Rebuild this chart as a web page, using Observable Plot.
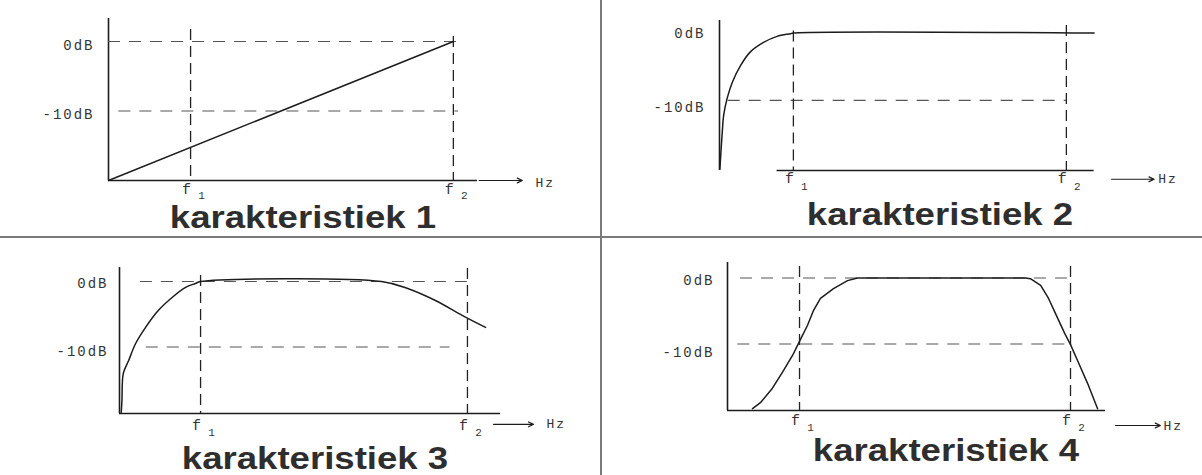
<!DOCTYPE html>
<html>
<head>
<meta charset="utf-8">
<script src="https://cdn.jsdelivr.net/npm/d3@7"></script>
<script src="https://cdn.jsdelivr.net/npm/@observablehq/plot@0.6"></script>
<style>
  html, body { margin: 0; padding: 0; background: #fff; }
  #fig { position: relative; width: 1202px; height: 475px; overflow: hidden; background: #fff; }
  .panel { position: absolute; }
  .title {
    position: absolute; white-space: nowrap;
    font-family: "Liberation Sans", Arial, sans-serif; font-weight: bold;
    font-size: 31px; line-height: 23px; color: #2e2e2e;
    transform: translateX(-50%) scaleX(1.18);
  }
  .divider { position: absolute; background: #7a7a7a; }
</style>
</head>
<body>
<div id="fig"></div>
<script>
// ---------- data ----------
const dbLevels = [0, -10];
const dbLabels = ["0dB", "-10dB"];
const freqMain = ["f", "f"];
const freqSubs = ["1", "2"];
const unitLabel = "Hz";
const titles = ["karakteristiek 1", "karakteristiek 2", "karakteristiek 3", "karakteristiek 4"];

// cut-off frequencies per characteristic (relative units, f2 = 10)
const f1Values = [2.38, 2.13, 2.33, 2.10];
const f2Values = [10, 10, 10, 10];

// characteristic 1: straight rise
const k1Freq = [0, 10];
const k1Gain = [-20, 0];
// characteristic 2: high-pass
const k2Freq = [0.01, 0.08, 0.12, 0.22, 0.37, 0.61, 0.89, 1.27, 1.66, 2.05, 2.13, 10.8];
const k2Gain = [-20.2, -14.7, -12.2, -9.7, -7.3, -4.8, -2.8, -1.4, -0.5, -0.1, 0, 0];
// characteristic 3: band with slow roll-off
const k3Freq = [0.05, 0.07, 0.11, 0.26, 0.46, 0.75, 1.12, 1.52, 1.90, 2.18, 2.33, 7.53, 8.30, 9.08, 9.86, 10.52];
const k3Gain = [-20.0, -18.2, -14.0, -12.1, -9.5, -7.0, -4.4, -2.4, -0.9, -0.3, 0, 0, -1.1, -2.9, -5.2, -7.0];
// characteristic 4: band-pass
const k4Freq = [0.73, 0.96, 1.31, 1.60, 1.90, 2.07, 2.33, 2.51, 2.71, 3.09, 3.50, 3.79, 8.69, 8.83, 9.13, 9.36, 9.59, 9.83, 10.0, 10.23, 10.50, 10.79];
const k4Gain = [-19.8, -18.9, -16.7, -14.3, -11.7, -9.9, -7.2, -4.9, -3.1, -1.6, -0.4, 0, 0, -0.1, -1.1, -3.1, -5.7, -8.4, -10.1, -12.8, -16.0, -19.8];

const curvesFreq = [k1Freq, k2Freq, k3Freq, k4Freq];
const curvesGain = [k1Gain, k2Gain, k3Gain, k4Gain];

// ---------- layout (positions / styles) ----------
const layout = [
  { left: 0, top: 0, width: 600, height: 237, ml: 108, mr: 123, mt: 18, mb: 57,
    xDom: [0, 10.7], yDom: [-20, 3.3], xAxis: [0, 10.7], curve: "linear",
    refs: [{ db: 0, from: 0, to: 10.3 }, { db: -10, from: 0.3, to: 10.15 }],
    fTop: [1.73, 0.72], labelDx: -14, labelDy: [4, 4], fDy: 9, sDy: 15,
    arrow: [10.75, 12.0], arrowDb: -20, hzX: 12.38, hzDb: -20.3,
    titleX: 303, titleBase: 228 },
  { left: 600, top: 0, width: 602, height: 237, ml: 119, mr: 107, mt: 20, mb: 67,
    xDom: [0, 10.84], yDom: [-20.4, 1.85], xAxis: [1.66, 10.8], curve: "catmull-rom",
    refs: [{ db: -10, from: 0.25, to: 10.0 }],
    fTop: [0.3, 1.1], labelDx: -14, labelDy: [0.5, 7], fDy: 8, sDy: 16,
    arrow: [11.3, 12.53], arrowDb: -21.7, hzX: 12.65, hzDb: -21.7,
    titleX: 940, titleBase: 225 },
  { left: 0, top: 237, width: 600, height: 238, ml: 119, mr: 100, mt: 30, mb: 62,
    xDom: [0, 10.95], yDom: [-20.15, 2.14], xAxis: [0, 10.95], curve: "catmull-rom",
    refs: [{ db: 0, from: 0.6, to: 10.1 }, { db: -10, from: 0.77, to: 9.5 }],
    fTop: [0.9, 2.0], labelDx: -11, labelDy: [2, 4], fDy: 12, sDy: 19,
    arrow: [10.75, 11.9], arrowDb: -21.8, hzX: 12.27, hzDb: -21.8,
    titleX: 315, titleBase: 469 },
  { left: 600, top: 237, width: 602, height: 238, ml: 127, mr: 97, mt: 25, mb: 65,
    xDom: [0, 11.02], yDom: [-20.08, 2.35], xAxis: [0, 11.02], curve: "linear",
    refs: [{ db: 0, from: 0.38, to: 10.05 }, { db: -10, from: 0.3, to: 10.05 }],
    fTop: [1.74, 1.74], labelDx: -13, labelDy: [2.5, 9], fDy: 10, sDy: 17,
    arrow: [11.31, 12.62], arrowDb: -22.35, hzX: 12.71, hzDb: -22.35,
    titleX: 946, titleBase: 461 }
];

const ink = "#1c1c1c";
const monoFont = "'Liberation Mono', 'DejaVu Sans Mono', monospace";

function buildPanel(i) {
  const L = layout[i];
  const base = L.yDom[0];
  const cut = [f1Values[i], f2Values[i]];
  const pts = curvesFreq[i].map((f, j) => ({ f, g: curvesGain[i][j] }));
  const marks = [
    // vertical (dB) axis
    Plot.ruleX([0], { y1: () => L.yDom[0], y2: () => L.yDom[1], stroke: ink, strokeWidth: 1.6 }),
    // horizontal (frequency) axis
    Plot.ruleY([base], { x1: () => L.xAxis[0], x2: () => L.xAxis[1], stroke: ink, strokeWidth: 1.3 }),
    // dashed reference levels
    Plot.ruleY(L.refs, { y: "db", x1: "from", x2: "to", stroke: "#555", strokeWidth: 1.1, strokeDasharray: "12,9" }),
    // dashed cut-off verticals
    Plot.ruleX(cut, { x: d => d, y1: (d, j) => L.fTop[j], y2: () => base, stroke: "#222", strokeWidth: 1.3, strokeDasharray: "11,6" }),
    // response curve
    Plot.line(pts, { x: "f", y: "g", stroke: ink, strokeWidth: 1.5, curve: L.curve }),
    // dB labels
    Plot.text([dbLevels[0]], { x: () => 0, y: d => d, text: () => dbLabels[0], textAnchor: "end",
      dx: L.labelDx, dy: L.labelDy[0], fontFamily: monoFont, fontSize: 14, fill: "#333" }),
    Plot.text([dbLevels[1]], { x: () => 0, y: d => d, text: () => dbLabels[1], textAnchor: "end",
      dx: L.labelDx, dy: L.labelDy[1], fontFamily: monoFont, fontSize: 14, fill: "#333" }),
    // f1 / f2 labels
    Plot.text(cut, { x: d => d, y: () => base, text: (d, j) => freqMain[j], dx: -3, dy: L.fDy,
      fontFamily: monoFont, fontSize: 15, fill: "#333" }),
    Plot.text(cut, { x: d => d, y: () => base, text: (d, j) => freqSubs[j], dx: 12, dy: L.sDy,
      fontFamily: monoFont, fontSize: 11, fill: "#333" }),
    // arrow -> Hz
    Plot.arrow([unitLabel], { x1: () => L.arrow[0], x2: () => L.arrow[1], y1: () => L.arrowDb, y2: () => L.arrowDb,
      stroke: ink, strokeWidth: 1.2, headLength: 7, headAngle: 50 }),
    Plot.text([unitLabel], { x: () => L.hzX, y: () => L.hzDb, text: d => d, textAnchor: "start",
      fontFamily: monoFont, fontSize: 13, fill: "#333" })
  ];
  const svg = Plot.plot({
    width: L.width, height: L.height,
    marginLeft: L.ml, marginRight: L.mr, marginTop: L.mt, marginBottom: L.mb,
    x: { type: "linear", domain: L.xDom, axis: null },
    y: { type: "linear", domain: L.yDom, axis: null },
    style: { background: "transparent", overflow: "visible" },
    marks
  });
  svg.querySelectorAll("text").forEach(t => t.setAttribute("letter-spacing", "2"));
  const wrap = document.createElement("div");
  wrap.className = "panel";
  wrap.style.left = L.left + "px";
  wrap.style.top = L.top + "px";
  wrap.appendChild(svg);
  return wrap;
}

const fig = document.getElementById("fig");
// separator lines between the four diagrams
const hDiv = document.createElement("div");
hDiv.className = "divider";
Object.assign(hDiv.style, { left: "0px", top: "236px", width: "1202px", height: "1.5px" });
const vDiv = document.createElement("div");
vDiv.className = "divider";
Object.assign(vDiv.style, { left: "600px", top: "0px", width: "1.5px", height: "475px" });

for (let i = 0; i < 4; i++) {
  fig.appendChild(buildPanel(i));
  const t = document.createElement("div");
  t.className = "title";
  t.textContent = titles[i];
  t.style.left = layout[i].titleX + "px";
  t.style.top = (layout[i].titleBase - 22) + "px";
  fig.appendChild(t);
}
fig.appendChild(hDiv);
fig.appendChild(vDiv);
</script>
</body>
</html>
